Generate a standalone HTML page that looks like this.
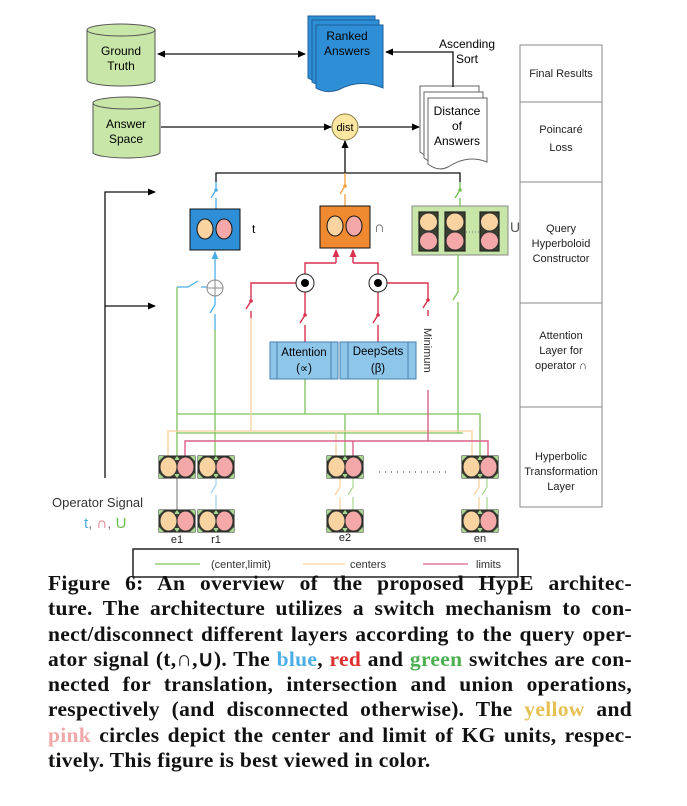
<!DOCTYPE html>
<html><head><meta charset="utf-8"><style>
body{margin:0;background:#fff;width:687px;height:806px;overflow:hidden;position:relative}
svg{position:absolute;left:0;top:0}
.cap{position:absolute;left:48px;width:584px;font-family:"Liberation Serif",serif;font-weight:bold;font-size:21.5px;letter-spacing:0.3px;line-height:25.3px;top:571px;color:#111}
.cap div{text-align:justify;text-align-last:justify;white-space:nowrap;height:25.3px}
.cap div.l{text-align-last:left}
</style></head><body>
<svg width="687" height="806" viewBox="0 0 687 806" font-family="Liberation Sans, sans-serif">
<defs>
<marker id="a" markerWidth="8" markerHeight="8" refX="7" refY="4" orient="auto" markerUnits="userSpaceOnUse"><path d="M0,0.5L8,4L0,7.5z" fill="#000"/></marker>
<marker id="ab" markerWidth="8" markerHeight="8" refX="1" refY="4" orient="auto" markerUnits="userSpaceOnUse"><path d="M8,0.5L0,4L8,7.5z" fill="#000"/></marker>
<marker id="ar" markerWidth="8" markerHeight="8" refX="7" refY="4" orient="auto" markerUnits="userSpaceOnUse"><path d="M0,0.5L8,4L0,7.5z" fill="#d9304f"/></marker>
<marker id="abl" markerWidth="8" markerHeight="8" refX="7" refY="4" orient="auto" markerUnits="userSpaceOnUse"><path d="M0,0.5L8,4L0,7.5z" fill="#4aaee6"/></marker>
<g id="kg">
<rect x="0" y="0" width="36" height="22" fill="#3a4030" stroke="#222"/>
<path d="M0,0h5l-5,5z M36,0h-5l5,5z M0,22h5l-5,-5z M36,22h-5l5,-5z M18,0l-3,4h6z M18,22l-3,-4h6z" fill="#a8d890"/>
<ellipse cx="9.5" cy="11" rx="8.5" ry="10" fill="#f9d3a0" stroke="#333"/>
<ellipse cx="26.5" cy="11" rx="8.5" ry="10" fill="#f4a9a8" stroke="#333"/>
</g>
</defs>
<g fill="#c7e6a8" stroke="#555" stroke-width="1">
<path d="M87,30 L87,80 A34,6 0 0 0 155,80 L155,30"/>
<ellipse cx="121" cy="30" rx="34" ry="6"/>
<path d="M93,103 L93,153 A34,6 0 0 0 160,153 L160,103"/>
<ellipse cx="126.5" cy="103" rx="33.5" ry="6"/>
</g>
<text x="121" y="55" font-size="12" text-anchor="middle">Ground</text>
<text x="121" y="70" font-size="12" text-anchor="middle">Truth</text>
<text x="126" y="128" font-size="12" text-anchor="middle">Answer</text>
<text x="126" y="143" font-size="12" text-anchor="middle">Space</text>
<g fill="#2f8fd6" stroke="#1d5f99" stroke-width="1">
<path d="M308,16 H375 V78 Q352,68 330,80 Q318,84 308,78 Z"/>
<path d="M312,20 H379 V82 Q356,72 334,84 Q322,88 312,82 Z"/>
<path d="M316,25 H383 V88 Q360,78 338,90 Q326,94 316,88 Z"/>
</g>
<text x="347" y="40" font-size="12" text-anchor="middle">Ranked</text>
<text x="347" y="55" font-size="12" text-anchor="middle">Answers</text>
<g fill="#fff" stroke="#666" stroke-width="1">
<path d="M420,86 H479 V150 Q460,142 440,155 Q430,160 420,152 Z"/>
<path d="M424,92 H483 V156 Q464,148 444,161 Q434,166 424,158 Z"/>
<path d="M428,98 H487 V162 Q468,154 448,167 Q438,172 428,164 Z"/>
</g>
<text x="457" y="115" font-size="12" text-anchor="middle">Distance</text>
<text x="457" y="130" font-size="12" text-anchor="middle">of</text>
<text x="457" y="145" font-size="12" text-anchor="middle">Answers</text>
<text x="467" y="48" font-size="12" text-anchor="middle">Ascending</text>
<text x="467" y="63" font-size="12" text-anchor="middle">Sort</text>
<g stroke="#111" stroke-width="1.3" fill="none">
<line x1="158" y1="54" x2="305" y2="54" marker-start="url(#ab)" marker-end="url(#a)"/>
<polyline points="453,87 453,52 386,52" marker-end="url(#a)"/>
<line x1="161" y1="127" x2="331" y2="127" marker-end="url(#a)"/>
<line x1="359" y1="127" x2="419" y2="127" marker-end="url(#a)"/>
<polyline points="216,182 216,173 460,173 460,182"/>
<line x1="345" y1="173" x2="345" y2="141" marker-end="url(#a)"/>
<polyline points="105,478 105,192 155,192" marker-end="url(#a)"/>
<line x1="105" y1="306" x2="155" y2="306" marker-end="url(#a)"/>
</g>
<circle cx="345" cy="127" r="13" fill="#fbe6a2" stroke="#8a7a40"/>
<text x="345" y="131" font-size="11" text-anchor="middle">dist</text>
<g fill="none" stroke="#888" stroke-width="1">
<rect x="520" y="45" width="82" height="462"/>
<line x1="520" y1="102" x2="602" y2="102"/><line x1="520" y1="182" x2="602" y2="182"/>
<line x1="520" y1="303" x2="602" y2="303"/><line x1="520" y1="407" x2="602" y2="407"/>
</g>
<g font-size="11" text-anchor="middle" fill="#222">
<text x="561" y="77">Final Results</text>
<text x="561" y="133">Poincaré</text><text x="561" y="151">Loss</text>
<text x="561" y="232">Query</text><text x="561" y="247">Hyperboloid</text><text x="561" y="262">Constructor</text>
<text x="561" y="339">Attention</text><text x="561" y="354">Layer for</text><text x="561" y="369">operator ∩</text>
<text x="561" y="460">Hyperbolic</text><text x="561" y="475">Transformation</text><text x="561" y="490">Layer</text>
</g>
<g stroke-width="1.3" fill="none">
<path d="M216,182 V190 L211,198 M216,198 V209" stroke="#4aaee6"/>
<path d="M345,173 V186 L340,194 M345,194 V206" stroke="#f0a040"/>
<path d="M460,182 V190 L455,198 M460,198 V206" stroke="#6fc04f"/>
</g>
<circle cx="216" cy="190" r="1.8" fill="#4aaee6"/><circle cx="345" cy="186" r="1.8" fill="#f0a040"/><circle cx="460" cy="190" r="1.8" fill="#6fc04f"/>
<rect x="190" y="209" width="50" height="41" fill="#2f8fd6" stroke="#111"/>
<ellipse cx="205" cy="229" rx="8" ry="10" fill="#f9d3a0" stroke="#111"/><ellipse cx="224" cy="229" rx="8" ry="10" fill="#f4a9a8" stroke="#111"/>
<text x="252" y="233" font-size="12">t</text>
<rect x="320" y="206" width="50" height="42" fill="#f08a30" stroke="#111"/>
<ellipse cx="335" cy="226" rx="8" ry="10" fill="#f9d3a0" stroke="#111"/><ellipse cx="354" cy="226" rx="8" ry="10" fill="#f4a9a8" stroke="#111"/>
<text x="374" y="232" font-size="15" fill="#555">∩</text>
<rect x="412" y="206" width="96" height="49" fill="#c7e6a8" stroke="#888"/>
<g stroke="#222" stroke-width="1.2">
<rect x="419" y="212" width="19" height="39" fill="#3a4030"/><rect x="445" y="212" width="20" height="39" fill="#3a4030"/><rect x="480" y="212" width="19" height="39" fill="#3a4030"/>
</g>
<g stroke="#333">
<circle cx="428.5" cy="222" r="9" fill="#f9d3a0"/><circle cx="428.5" cy="241" r="9" fill="#f4a9a8"/>
<circle cx="455" cy="222" r="9" fill="#f9d3a0"/><circle cx="455" cy="241" r="9" fill="#f4a9a8"/>
<circle cx="489.5" cy="222" r="9" fill="#f9d3a0"/><circle cx="489.5" cy="241" r="9" fill="#f4a9a8"/>
</g>
<line x1="466" y1="232" x2="479" y2="232" stroke="#777" stroke-dasharray="1,2"/>
<text x="510" y="232" font-size="14" fill="#555">U</text>
<g stroke="#4aaee6" stroke-width="1.3" fill="none">
<line x1="215" y1="280" x2="215" y2="252" marker-end="url(#abl)"/>
<path d="M177,287 H188 L198,281 M201,287 H207"/>
<path d="M215,296 V305 L210,313 M215,314 V330"/>
</g>
<circle cx="215" cy="288" r="8" fill="#fff" stroke="#888"/>
<path d="M207,288H223M215,280V296" stroke="#888"/>
<g stroke="#7cc45a" stroke-width="1.3" fill="none">
<polyline points="177,287 177,456"/>
<polyline points="215,330 215,456"/>
<polyline points="305,379 305,414"/><polyline points="378,379 378,414"/>
<polyline points="177,414 480,414 480,456"/>
<polyline points="177,433 463,433"/>
<path d="M458,255 V292 L453,300 M458,302 V433"/>
<polyline points="345,414 345,456"/>
</g>
<g stroke="#f8cf9a" stroke-width="1.3" fill="none">
<polyline points="251,318 251,431"/>
<polyline points="168,456 168,431 472,431 472,456"/>
<polyline points="336,431 336,456"/>
</g>
<g stroke="#d9304f" stroke-width="1.4" fill="none">
<polyline points="336,263 336,250" marker-end="url(#ar)"/>
<polyline points="353,263 353,250" marker-end="url(#ar)"/>
<polyline points="336,263 305,263 305,274"/>
<polyline points="353,263 378,263 378,274"/>
<path d="M296,283 H251 V301 L246,309 M251,311 V318"/>
<path d="M305,292 V315 L300,323 M305,325 V342"/>
<path d="M378,292 V315 L373,323 M378,325 V342"/>
<path d="M387,283 H428 V300 L423,308 M428,310 V316"/>
</g>
<g stroke="#d9608a" stroke-width="1.4" fill="none">
<polyline points="428,390 428,441"/>
<polyline points="185,456 185,441 488,441 488,456"/>
<polyline points="353,441 353,456"/>
</g>
<g fill="#d9304f"><circle cx="251" cy="301" r="1.8"/><circle cx="305" cy="315" r="1.8"/><circle cx="378" cy="315" r="1.8"/><circle cx="428" cy="300" r="1.8"/></g>
<g><circle cx="305" cy="283" r="9" fill="#fff" stroke="#222"/><circle cx="305" cy="283" r="4" fill="#000"/>
<circle cx="378" cy="283" r="9" fill="#fff" stroke="#222"/><circle cx="378" cy="283" r="4" fill="#000"/></g>
<text transform="translate(424,328) rotate(90)" font-size="11" fill="#333">Minimum</text>
<g fill="#8ec6ea" stroke="#4a80b0">
<rect x="270" y="342" width="68" height="37"/><line x1="277" y1="342" x2="277" y2="379"/><line x1="331" y1="342" x2="331" y2="379"/>
<rect x="340" y="342" width="76" height="37"/><line x1="348" y1="342" x2="348" y2="379"/><line x1="408" y1="342" x2="408" y2="379"/>
</g>
<text x="304" y="356" font-size="11.5" text-anchor="middle">Attention</text><text x="304" y="372" font-size="11.5" text-anchor="middle">(∝)</text>
<text x="378" y="355" font-size="11.5" text-anchor="middle">DeepSets</text><text x="378" y="372" font-size="11.5" text-anchor="middle">(β)</text>
<line x1="177" y1="477" x2="177" y2="510" stroke="#888" stroke-width="1.2"/>
<path d="M216,477 V485 L211,493 M216,495 V510" stroke="#9fd0ee" stroke-width="1.2" fill="none"/>
<g stroke-width="1.2" fill="none">
<path d="M340,477 V487 L335,495 M340,497 V510" stroke="#f8cf9a"/>
<path d="M353,477 V487 L348,495 M353,497 V510" stroke="#a6d88e"/>
<path d="M479,477 V487 L474,495 M479,497 V510" stroke="#f8cf9a"/>
<path d="M487,477 V487 L482,495 M487,497 V510" stroke="#a6d88e"/>
</g>
<use href="#kg" x="159" y="456"/><use href="#kg" x="198" y="456"/><use href="#kg" x="327" y="456"/><use href="#kg" x="462" y="456"/>
<use href="#kg" x="159" y="510"/><use href="#kg" x="198" y="510"/><use href="#kg" x="327" y="510"/><use href="#kg" x="462" y="510"/>
<line x1="379" y1="472" x2="446" y2="472" stroke="#555" stroke-width="1.3" stroke-dasharray="1,5"/>
<g font-size="11" text-anchor="middle" fill="#222">
<text x="177" y="543">e1</text><text x="216" y="543">r1</text><text x="345" y="541">e2</text><text x="480" y="542">en</text>
</g>
<text x="52" y="507" font-size="13" fill="#333">Operator Signal</text>
<text x="84" y="528" font-size="15"><tspan fill="#4aaee6">t</tspan><tspan fill="#888">, </tspan><tspan fill="#e06070">∩</tspan><tspan fill="#888">, </tspan><tspan fill="#6fc04f">U</tspan></text>
<rect x="133" y="549" width="385" height="28" fill="#fff" stroke="#222" stroke-width="1.5"/>
<g stroke-width="1.3"><line x1="155" y1="564" x2="200" y2="564" stroke="#7cc45a"/><line x1="303" y1="564" x2="345" y2="564" stroke="#f8cf9a"/><line x1="423" y1="564" x2="468" y2="564" stroke="#d9608a"/></g>
<g font-size="11" fill="#333"><text x="211" y="568">(center,limit)</text><text x="350" y="568">centers</text><text x="476" y="568">limits</text></g>
</svg>
<div class="cap">
<div>Figure 6: An overview of the proposed HypE architec-</div>
<div>ture. The architecture utilizes a switch mechanism to con-</div>
<div>nect/disconnect different layers according to the query oper-</div>
<div>ator signal (t,∩,∪). The <span style="color:#4aaee6">blue</span>, <span style="color:#e03030">red</span> and <span style="color:#4cb050">green</span> switches are con-</div>
<div>nected for translation, intersection and union operations,</div>
<div>respectively (and disconnected otherwise). The <span style="color:#e6c050">yellow</span> and</div>
<div><span style="color:#f0a8a8">pink</span> circles depict the center and limit of KG units, respec-</div>
<div class="l">tively. This figure is best viewed in color.</div>
</div>
</body></html>
